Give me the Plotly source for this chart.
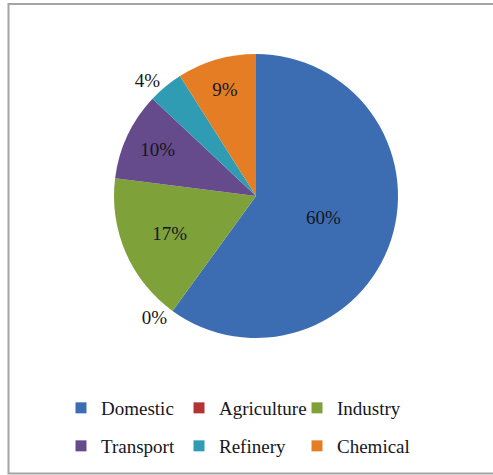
import plotly.graph_objects as go

sectors = ["Domestic", "Agriculture", "Industry", "Transport", "Refinery", "Chemical"]
shares = [60, 0.0001, 17, 10, 4, 9]
share_labels = ["60%", "0%", "17%", "10%", "4%", "9%"]
label_positions = ["inside", "outside", "inside", "inside", "outside", "inside"]
colors = ["#3C6DB3", "#B33232", "#7FA13A", "#654A8C", "#2F9CB4", "#E47D24"]

W, H = 493, 475
cx, cy, r = 256, 196, 142
TXT = "#161622"
SERIF = "Liberation Serif, Times New Roman, serif"

fig = go.Figure()
fig.add_trace(go.Pie(
    labels=sectors,
    values=shares,
    text=share_labels,
    textinfo="text",
    textposition=label_positions,
    insidetextorientation="horizontal",
    direction="clockwise",
    sort=False,
    rotation=0,
    marker=dict(colors=colors, line=dict(width=0)),
    textfont=dict(family=SERIF, size=19, color=TXT),
    outsidetextfont=dict(family=SERIF, size=19, color=TXT),
    domain=dict(x=[(cx - r) / W, (cx + r) / W], y=[1 - (cy + r) / H, 1 - (cy - r) / H]),
    hoverinfo="label+percent",
    showlegend=False,
))

# legend swatches (two rows of three)
for i, (name, col) in enumerate(zip(sectors, colors)):
    fig.add_trace(go.Scatter(
        x=[None], y=[None], mode="markers", name=name,
        marker=dict(symbol="square", size=11, color=col),
        legend="legend" if i < 3 else "legend2",
        hoverinfo="skip",
    ))

legend_common = dict(
    orientation="h",
    xanchor="left",
    yanchor="middle",
    entrywidth=73, entrywidthmode="pixels",
    font=dict(family=SERIF, size=19, color=TXT),
    itemwidth=30,
    traceorder="normal",
    bgcolor="rgba(0,0,0,0)",
)

fig.update_layout(
    width=W, height=H,
    margin=dict(l=0, r=0, t=0, b=0),
    font=dict(family=SERIF, color=TXT),
    paper_bgcolor="white",
    plot_bgcolor="white",
    showlegend=True,
    xaxis=dict(visible=False),
    yaxis=dict(visible=False),
    legend=dict(legend_common, x=61 / W, y=1 - 408 / H),
    legend2=dict(legend_common, x=61 / W, y=1 - 446 / H),
    shapes=[dict(type="rect", xref="paper", yref="paper",
                 x0=8.5 / W, x1=1.02, y0=1 - 473.5 / H, y1=1 - 4 / H,
                 line=dict(color="#a4a4a4", width=2), fillcolor="rgba(0,0,0,0)",
                 layer="below")],
)

fig.write_html("out.html", config={"displayModeBar": False},
               post_script="document.body.style.margin='0';")
